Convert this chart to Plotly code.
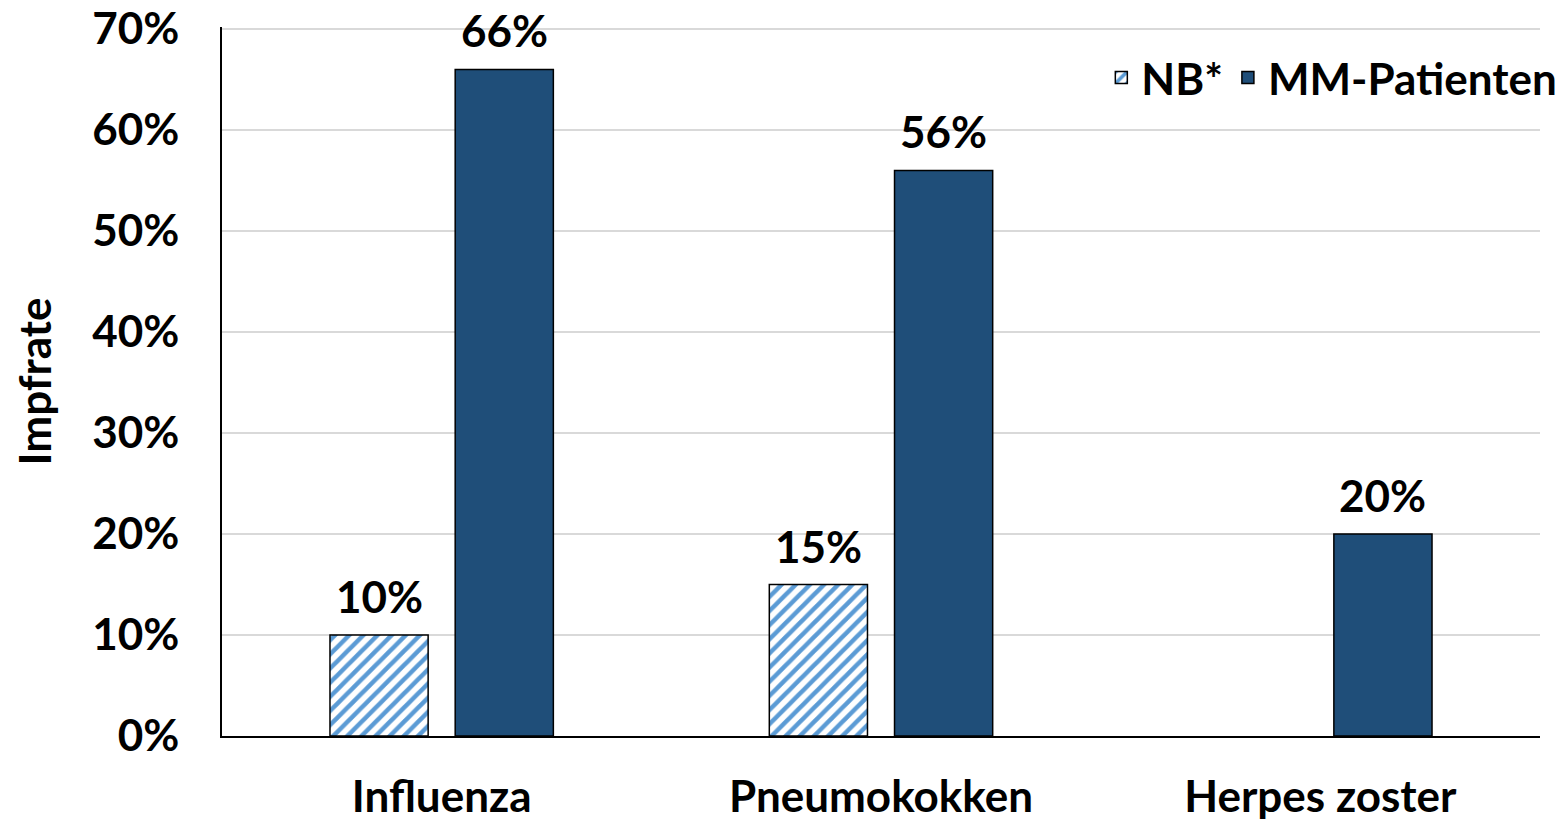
import plotly.graph_objects as go

categories = ["Influenza", "Pneumokokken", "Herpes zoster"]
nb_values = [0.10, 0.15, None]
mm_values = [0.66, 0.56, 0.20]
series_names = ["NB*", "MM-Patienten"]
y_ticks = [0, 0.1, 0.2, 0.3, 0.4, 0.5, 0.6, 0.7]

FONT = "Lato"
fs = 44
BAR_OFFSET = 62.5  # px, half of the per-series slot

fig = go.Figure()
fig.add_trace(go.Bar(
    x=categories, y=nb_values, name=series_names[0],
    marker=dict(color="white", line=dict(color="black", width=1.5),
                pattern=dict(shape="/", fgcolor="#5B9BD5", bgcolor="white", size=10,
                             solidity=0.45, fgopacity=1)),
))
fig.add_trace(go.Bar(
    x=categories, y=mm_values, name=series_names[1],
    marker=dict(color="#1F4E79", line=dict(color="black", width=1.5)),
))

for vals, shift in ((nb_values, -BAR_OFFSET), (mm_values, BAR_OFFSET)):
    for cat, v in zip(categories, vals):
        if v is None:
            continue
        fig.add_annotation(x=cat, y=v, text=f"{v:.0%}", showarrow=False,
                           xshift=shift, yshift=11, yanchor="bottom",
                           font=dict(family=FONT, size=fs, color="black", weight="bold"))

fig.update_layout(
    width=1559, height=813,
    margin=dict(l=214, r=27, t=19, b=85, autoexpand=False),
    plot_bgcolor="white", paper_bgcolor="white",
    barmode="group", bargap=0.43, bargroupgap=0.216,
    font=dict(family=FONT, size=fs, color="black", weight="bold"),
    legend=dict(orientation="h", xref="container", x=0.997, xanchor="right",
                yref="container", y=0.914, yanchor="middle",
                font=dict(family=FONT, size=fs, color="black", weight="bold"),
                bgcolor="rgba(0,0,0,0)", itemwidth=30),
    yaxis=dict(range=[0, 0.702], tickvals=y_ticks, tickformat=".0%",
               showgrid=True, gridcolor="#D9D9D9", gridwidth=1.5,
               showline=True, linecolor="black", linewidth=1.5,
               ticks="", zeroline=False, automargin=False, ticklabelstandoff=32,
               ticklabeloverflow="allow",
               title=dict(text="Impfrate", standoff=35,
                          font=dict(family=FONT, size=fs, color="black", weight="bold")),
               tickfont=dict(family=FONT, size=fs, color="black", weight="bold")),
    xaxis=dict(showline=True, linecolor="black", linewidth=1.5, ticks="", automargin=False,
               ticklabelstandoff=21, ticklabeloverflow="allow",
               tickfont=dict(family=FONT, size=fs, color="black", weight="bold")),
)

fig.write_html("out.html")
